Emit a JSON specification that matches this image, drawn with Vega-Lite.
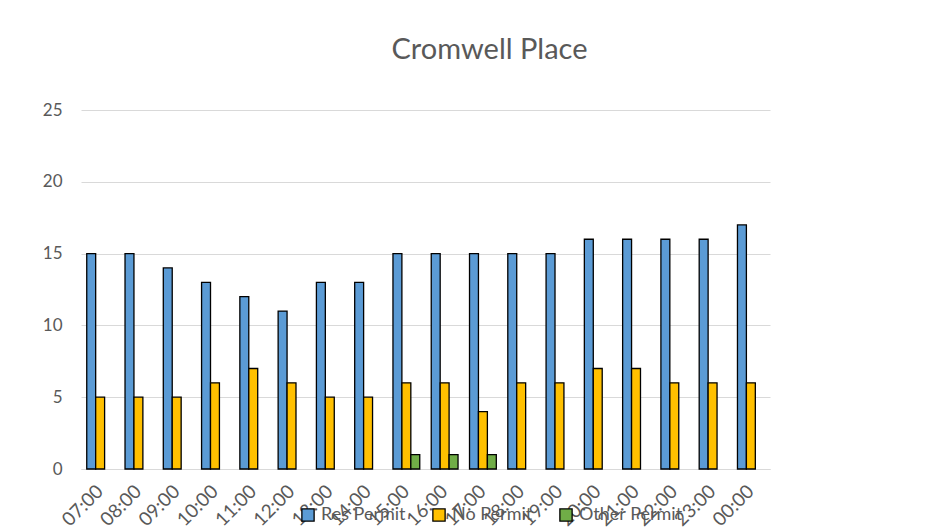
{
  "$schema": "https://vega.github.io/schema/vega-lite/v6.json",
  "autosize": {"type": "none"},
  "width": 689,
  "height": 359,
  "padding": {"left": 81, "top": 110, "right": 170, "bottom": 59},
  "background": "white",
  "title": {
    "text": "Cromwell Place",
    "fontSize": 29,
    "font": "Lato",
    "fontWeight": "normal",
    "color": "#595959",
    "anchor": "middle",
    "dx": 64,
    "offset": 36
  },
  "data": {
    "values": [
      {"time": "07:00", "series": "Res Permit", "value": 15},
      {"time": "08:00", "series": "Res Permit", "value": 15},
      {"time": "09:00", "series": "Res Permit", "value": 14},
      {"time": "10:00", "series": "Res Permit", "value": 13},
      {"time": "11:00", "series": "Res Permit", "value": 12},
      {"time": "12:00", "series": "Res Permit", "value": 11},
      {"time": "13:00", "series": "Res Permit", "value": 13},
      {"time": "14:00", "series": "Res Permit", "value": 13},
      {"time": "15:00", "series": "Res Permit", "value": 15},
      {"time": "16:00", "series": "Res Permit", "value": 15},
      {"time": "17:00", "series": "Res Permit", "value": 15},
      {"time": "18:00", "series": "Res Permit", "value": 15},
      {"time": "19:00", "series": "Res Permit", "value": 15},
      {"time": "20:00", "series": "Res Permit", "value": 16},
      {"time": "21:00", "series": "Res Permit", "value": 16},
      {"time": "22:00", "series": "Res Permit", "value": 16},
      {"time": "23:00", "series": "Res Permit", "value": 16},
      {"time": "00:00", "series": "Res Permit", "value": 17},
      {"time": "07:00", "series": "No Permit", "value": 5},
      {"time": "08:00", "series": "No Permit", "value": 5},
      {"time": "09:00", "series": "No Permit", "value": 5},
      {"time": "10:00", "series": "No Permit", "value": 6},
      {"time": "11:00", "series": "No Permit", "value": 7},
      {"time": "12:00", "series": "No Permit", "value": 6},
      {"time": "13:00", "series": "No Permit", "value": 5},
      {"time": "14:00", "series": "No Permit", "value": 5},
      {"time": "15:00", "series": "No Permit", "value": 6},
      {"time": "16:00", "series": "No Permit", "value": 6},
      {"time": "17:00", "series": "No Permit", "value": 4},
      {"time": "18:00", "series": "No Permit", "value": 6},
      {"time": "19:00", "series": "No Permit", "value": 6},
      {"time": "20:00", "series": "No Permit", "value": 7},
      {"time": "21:00", "series": "No Permit", "value": 7},
      {"time": "22:00", "series": "No Permit", "value": 6},
      {"time": "23:00", "series": "No Permit", "value": 6},
      {"time": "00:00", "series": "No Permit", "value": 6},
      {"time": "15:00", "series": "Other Permit", "value": 1},
      {"time": "16:00", "series": "Other Permit", "value": 1},
      {"time": "17:00", "series": "Other Permit", "value": 1}
    ]
  },
  "mark": {"type": "bar", "stroke": "black", "strokeWidth": 1.3},
  "encoding": {
    "x": {
      "field": "time",
      "type": "nominal",
      "sort": null,
      "scale": {
        "domain": ["07:00","08:00","09:00","10:00","11:00","12:00","13:00","14:00","15:00","16:00","17:00","18:00","19:00","20:00","21:00","22:00","23:00","00:00"],
        "paddingInner": 0.3,
        "paddingOuter": 0.15
      },
      "axis": {
        "title": null,
        "labelAngle": -45,
        "labelAlign": "right",
        "labelBaseline": "middle",
        "labelFontSize": 19,
        "labelFont": "Lato",
        "labelColor": "#595959",
        "labelPadding": 19,
        "labelOverlap": false,
        "ticks": false,
        "domainColor": "#d9d9d9",
        "domainWidth": 1
      }
    },
    "xOffset": {
      "field": "series",
      "type": "nominal",
      "scale": {"domain": ["Res Permit", "No Permit", "Other Permit"], "paddingInner": 0, "paddingOuter": 0}
    },
    "y": {
      "field": "value",
      "type": "quantitative",
      "scale": {"domain": [0, 25], "nice": false},
      "axis": {
        "title": null,
        "values": [0, 5, 10, 15, 20, 25],
        "labelFontSize": 17,
        "labelFont": "Lato",
        "labelColor": "#595959",
        "labelPadding": 19,
        "ticks": false,
        "domain": false,
        "gridColor": "#d9d9d9",
        "gridWidth": 1
      }
    },
    "color": {
      "field": "series",
      "type": "nominal",
      "scale": {"domain": ["Res Permit", "No Permit", "Other Permit"], "range": ["#5B9BD5", "#FFC000", "#70AD47"]},
      "legend": {
        "title": null,
        "orient": "none",
        "direction": "horizontal",
        "legendX": 218,
        "legendY": 396,
        "symbolType": "square",
        "symbolSize": 150,
        "symbolStrokeColor": "black",
        "symbolStrokeWidth": 1.3,
        "labelFontSize": 18,
        "labelFont": "Lato",
        "labelColor": "#595959",
        "columnPadding": 24
      }
    }
  },
  "config": {"view": {"stroke": null}}
}
